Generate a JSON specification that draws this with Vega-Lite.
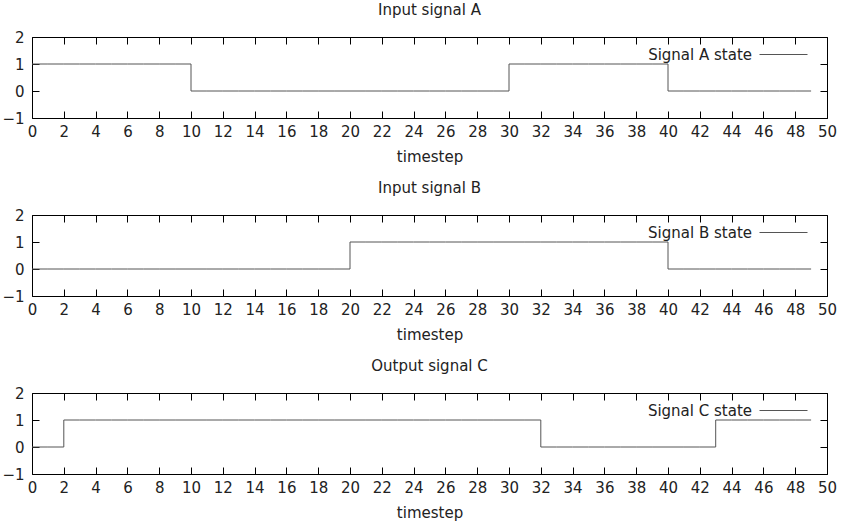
{
  "$schema": "https://vega.github.io/schema/vega-lite/v6.json",
  "padding": {"left": 1, "top": 2, "right": 0, "bottom": 0},
  "background": "white",
  "datasets": {
    "signals": [
      {"t":0,"a":1,"b":0,"c":0},{"t":1,"a":1,"b":0,"c":0},{"t":2,"a":1,"b":0,"c":1},{"t":3,"a":1,"b":0,"c":1},{"t":4,"a":1,"b":0,"c":1},
      {"t":5,"a":1,"b":0,"c":1},{"t":6,"a":1,"b":0,"c":1},{"t":7,"a":1,"b":0,"c":1},{"t":8,"a":1,"b":0,"c":1},{"t":9,"a":1,"b":0,"c":1},
      {"t":10,"a":0,"b":0,"c":1},{"t":11,"a":0,"b":0,"c":1},{"t":12,"a":0,"b":0,"c":1},{"t":13,"a":0,"b":0,"c":1},{"t":14,"a":0,"b":0,"c":1},
      {"t":15,"a":0,"b":0,"c":1},{"t":16,"a":0,"b":0,"c":1},{"t":17,"a":0,"b":0,"c":1},{"t":18,"a":0,"b":0,"c":1},{"t":19,"a":0,"b":0,"c":1},
      {"t":20,"a":0,"b":1,"c":1},{"t":21,"a":0,"b":1,"c":1},{"t":22,"a":0,"b":1,"c":1},{"t":23,"a":0,"b":1,"c":1},{"t":24,"a":0,"b":1,"c":1},
      {"t":25,"a":0,"b":1,"c":1},{"t":26,"a":0,"b":1,"c":1},{"t":27,"a":0,"b":1,"c":1},{"t":28,"a":0,"b":1,"c":1},{"t":29,"a":0,"b":1,"c":1},
      {"t":30,"a":1,"b":1,"c":1},{"t":31,"a":1,"b":1,"c":1},{"t":32,"a":1,"b":1,"c":0},{"t":33,"a":1,"b":1,"c":0},{"t":34,"a":1,"b":1,"c":0},
      {"t":35,"a":1,"b":1,"c":0},{"t":36,"a":1,"b":1,"c":0},{"t":37,"a":1,"b":1,"c":0},{"t":38,"a":1,"b":1,"c":0},{"t":39,"a":1,"b":1,"c":0},
      {"t":40,"a":0,"b":0,"c":0},{"t":41,"a":0,"b":0,"c":0},{"t":42,"a":0,"b":0,"c":0},{"t":43,"a":0,"b":0,"c":1},{"t":44,"a":0,"b":0,"c":1},
      {"t":45,"a":0,"b":0,"c":1},{"t":46,"a":0,"b":0,"c":1},{"t":47,"a":0,"b":0,"c":1},{"t":48,"a":0,"b":0,"c":1},{"t":49,"a":0,"b":0,"c":1}
    ]
  },
  "data": {"name": "signals"},
  "spacing": 15,
  "resolve": {"scale": {"color": "independent"}},
  "vconcat": [
    {
      "width": 795, "height": 81,
      "title": {"text": "Input signal A"},
      "mark": {"type": "line", "interpolate": "step-after", "strokeWidth": 1},
      "encoding": {
        "x": {"field": "t", "type": "quantitative", "scale": {"domain": [0, 50], "nice": false}, "axis": {"orient": "bottom", "title": "timestep", "values": [0,2,4,6,8,10,12,14,16,18,20,22,24,26,28,30,32,34,36,38,40,42,44,46,48,50]}},
        "y": {"field": "a", "type": "quantitative", "scale": {"domain": [-1, 2], "nice": false}, "axis": {"orient": "left", "title": null, "values": [-1,0,1,2]}},
        "color": {"datum": "Signal A state", "type": "nominal", "scale": {"range": ["#555555"]}, "legend": {"title": null}}
      }
    },
    {
      "width": 795, "height": 81,
      "title": {"text": "Input signal B"},
      "mark": {"type": "line", "interpolate": "step-after", "strokeWidth": 1},
      "encoding": {
        "x": {"field": "t", "type": "quantitative", "scale": {"domain": [0, 50], "nice": false}, "axis": {"orient": "bottom", "title": "timestep", "values": [0,2,4,6,8,10,12,14,16,18,20,22,24,26,28,30,32,34,36,38,40,42,44,46,48,50]}},
        "y": {"field": "b", "type": "quantitative", "scale": {"domain": [-1, 2], "nice": false}, "axis": {"orient": "left", "title": null, "values": [-1,0,1,2]}},
        "color": {"datum": "Signal B state", "type": "nominal", "scale": {"range": ["#555555"]}, "legend": {"title": null}}
      }
    },
    {
      "width": 795, "height": 81,
      "title": {"text": "Output signal C"},
      "mark": {"type": "line", "interpolate": "step-after", "strokeWidth": 1},
      "encoding": {
        "x": {"field": "t", "type": "quantitative", "scale": {"domain": [0, 50], "nice": false}, "axis": {"orient": "bottom", "title": "timestep", "values": [0,2,4,6,8,10,12,14,16,18,20,22,24,26,28,30,32,34,36,38,40,42,44,46,48,50]}},
        "y": {"field": "c", "type": "quantitative", "scale": {"domain": [-1, 2], "nice": false}, "axis": {"orient": "left", "title": null, "values": [-1,0,1,2]}},
        "color": {"datum": "Signal C state", "type": "nominal", "scale": {"range": ["#555555"]}, "legend": {"title": null}}
      }
    }
  ],
  "config": {
    "font": "DejaVu Sans",
    "view": {"stroke": "#000000", "strokeWidth": 1},
    "title": {"fontSize": 15, "fontWeight": "normal", "color": "#222222", "offset": 12, "font": "DejaVu Sans"},
    "axis": {
      "domain": false, "ticks": false, "tickSize": 0,
      "grid": true, "gridColor": "#000000", "gridWidth": 1, "gridOpacity": 1,
      "labelFontSize": 15, "labelColor": "#222222", "labelPadding": 6,
      "titleFontSize": 15, "titleFontWeight": "normal", "titleColor": "#222222", "titlePadding": 10,
      "labelFlush": false, "labelOverlap": false
    },
    "axisX": {"gridDash": [7, 67, 7]},
    "axisY": {"gridDash": [7, 781, 7]},
    "axisLeft": {"labelPadding": 8},
    "legend": {
      "orient": "none", "legendX": 727, "legendY": -7, "padding": 0,
      "symbolType": "stroke", "symbolSize": 2304, "symbolStrokeWidth": 1,
      "labelFontSize": 15, "labelColor": "#222222", "labelAlign": "right", "labelOffset": -56
    }
  }
}
